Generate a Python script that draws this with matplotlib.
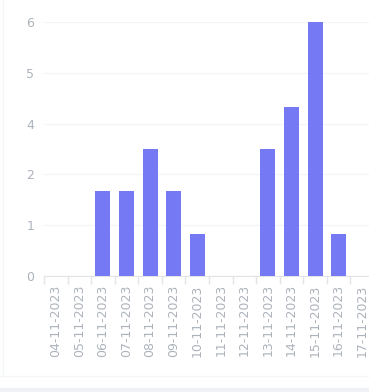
'''
Daily count bar chart, 04-11-2023 .. 17-11-2023
'''
import matplotlib
matplotlib.use('Agg')
import matplotlib.pyplot as plt
from matplotlib.ticker import FixedLocator, FuncFormatter

dates = ['04-11-2023', '05-11-2023', '06-11-2023', '07-11-2023', '08-11-2023',
         '09-11-2023', '10-11-2023', '11-11-2023', '12-11-2023', '13-11-2023',
         '14-11-2023', '15-11-2023', '16-11-2023', '17-11-2023']
counts = [0, 0, 2, 2, 3, 2, 1, 0, 0, 3, 4, 6, 1, 0]

# y axis ticks: 5 even steps over 0..6, labels rounded to integers
y_max = 6
y_ticks = [y_max * i / 5 for i in range(6)]

BAR = '#7579f3'
TEXT = '#adb3bb'
GRID = '#f4f5f7'
AXIS = '#e2e4e8'

W, H = 369, 392
fig = plt.figure(figsize=(W / 100, H / 100), dpi=100)
fig.patch.set_facecolor('white')

# axes box in pixels: left 44, right 374 (cropped), top 22, bottom 276
left, right, top, bottom = 44, 374, 22, 276
ax = fig.add_axes([left / W, 1 - bottom / H, (right - left) / W, (bottom - top) / H])

x = list(range(len(dates)))
ax.bar(x, counts, width=0.64, color=BAR, zorder=3)

ax.set_xlim(-0.5, len(dates) - 0.5)
ax.set_ylim(0, y_max)

ax.yaxis.set_major_locator(FixedLocator(y_ticks))
ax.yaxis.set_major_formatter(FuncFormatter(lambda v, p: f'{round(v):d}'))
ax.grid(axis='y', color=GRID, linewidth=1, zorder=0)

ax.set_xticks(x)
ax.set_xticklabels(dates, rotation=90)
ax.set_xticks([i - 0.5 for i in range(len(dates) + 1)], minor=True)

ax.tick_params(axis='y', length=0, pad=7, labelsize=9, labelcolor=TEXT)
ax.tick_params(axis='x', which='major', length=0, pad=6, labelsize=9, labelcolor=TEXT)
ax.tick_params(axis='x', which='minor', length=6, width=1, color=AXIS)

for side in ('top', 'right', 'left'):
    ax.spines[side].set_visible(False)
ax.spines['bottom'].set_color(AXIS)

# card border and bottom strip
fig.add_artist(plt.Line2D([2.5 / W, 2.5 / W], [1 - 376 / H, 1], color='#f4f5f7',
                          linewidth=1, transform=fig.transFigure))
fig.add_artist(plt.Line2D([0, 1], [1 - 376 / H, 1 - 376 / H], color='#f4f5f7',
                          linewidth=1, transform=fig.transFigure))
fig.add_artist(plt.Rectangle((0, 0), 1, 4.5 / H, color='#eff1f6',
                             transform=fig.transFigure, zorder=0))

fig.savefig('out.png', dpi=100)
